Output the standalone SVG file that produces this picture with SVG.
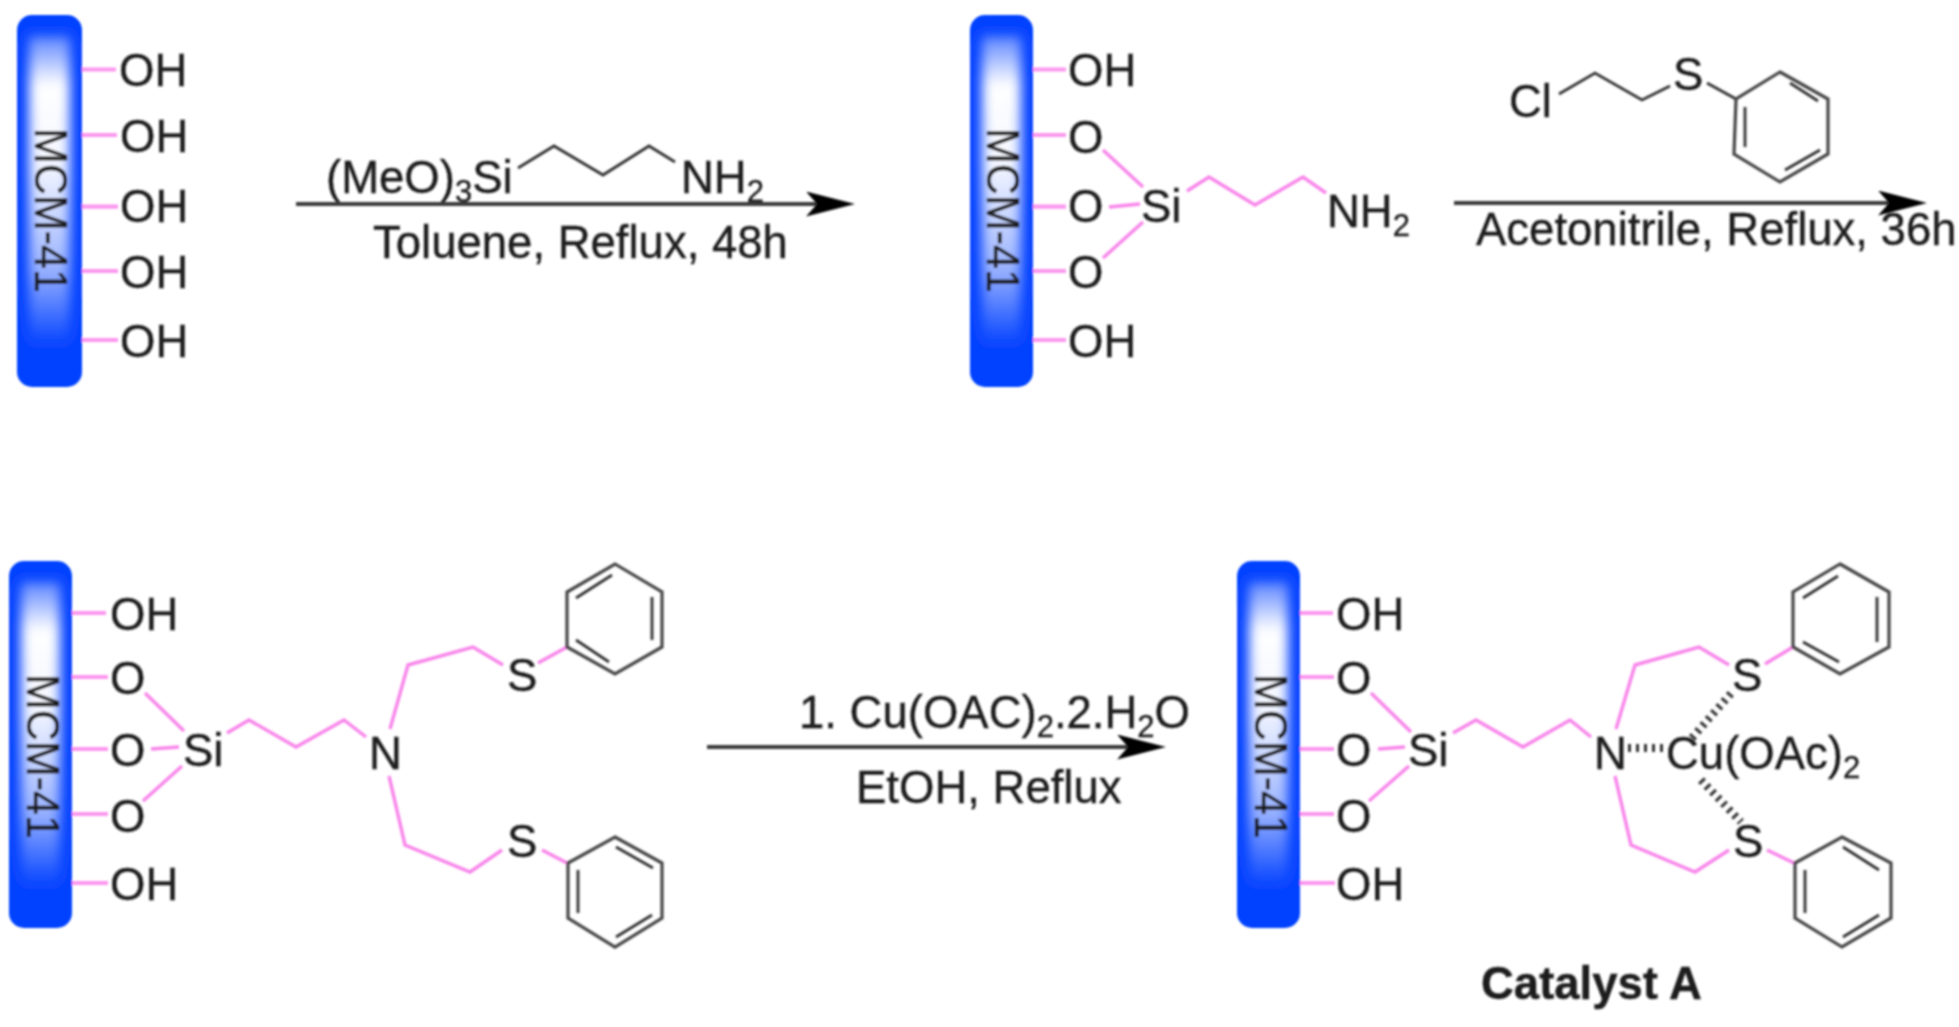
<svg xmlns="http://www.w3.org/2000/svg" width="1959" height="1027" viewBox="0 0 1959 1027">
<style>
text{font-family:"Liberation Sans",Arial,sans-serif;font-size:45.5px;fill:#1a1a1a;stroke:#1a1a1a;stroke-width:.35}
.sub{font-size:31px}
.b{font-weight:bold}
.bond{fill:none;stroke:#f884ea;stroke-width:3.4;stroke-linejoin:miter}
.stub{fill:none;stroke:#fb96ef;stroke-width:4.2}
.ring{fill:none;stroke:#444;stroke-width:3.2;stroke-linejoin:miter}
.dk{fill:none;stroke:#333;stroke-width:2.8}
.hash{fill:none;stroke:#333;stroke-width:8;stroke-dasharray:3 5}
.arrow{fill:none;stroke:#3a3a3a;stroke-width:3.8;marker-end:url(#head)}
.barbase{fill:#0442ff}
.barglow{fill:url(#glow);filter:url(#soft)}
</style>
<defs>
<linearGradient id="glow" x1="0" y1="0" x2="0" y2="1">
<stop offset="0" stop-color="#fff" stop-opacity=".35"/>
<stop offset=".16" stop-color="#fff"/>
<stop offset=".42" stop-color="#fff" stop-opacity=".95"/>
<stop offset=".75" stop-color="#fff" stop-opacity=".6"/>
<stop offset="1" stop-color="#fff" stop-opacity="0"/>
</linearGradient>
<filter id="soft" x="-50%" y="-10%" width="200%" height="120%"><feGaussianBlur stdDeviation="6"/></filter>
<filter id="blur" filterUnits="userSpaceOnUse" x="0" y="0" width="1959" height="1027"><feGaussianBlur stdDeviation="0.8"/></filter>
<marker id="head" markerUnits="userSpaceOnUse" markerWidth="49" markerHeight="25" viewBox="0 0 49 25" refX="11" refY="12.5" orient="auto"><path d="M0 0L49 12.5L0 25L11 12.5Z" fill="#000"/></marker>
</defs>
<rect width="1959" height="1027" fill="#fff"/>
<g filter="url(#blur)">

<g id="mcm-hydroxyl">
<rect class="barbase" x="17" y="15" width="65" height="372" rx="15"/>
<rect class="barglow" x="29" y="36" width="41" height="310"/>
<text transform="translate(35 128) rotate(90)" textLength="165" lengthAdjust="spacingAndGlyphs">MCM-41</text>
<path class="stub" d="M82 69.5H116M82 135H117M82 206.7H118M82 271H118M82 340H118"/>
<text x="119" y="86">OH</text>
<text x="120" y="152">OH</text>
<text x="120" y="222">OH</text>
<text x="120" y="288">OH</text>
<text x="120" y="357">OH</text>
</g>

<g id="reagent-silane">
<text x="326" y="193">(MeO)<tspan class="sub" dy="9">3</tspan><tspan dy="-9">Si</tspan></text>
<path class="dk" d="M518 168L554 146L603 175L649 146L675 162"/>
<text x="681" y="193">NH<tspan class="sub" dy="9">2</tspan></text>
</g>
<g id="condition-1"><text x="373" y="258">Toluene, Reflux, 48h</text></g>

<g id="mcm-amine">
<rect class="barbase" x="970" y="15" width="63" height="372" rx="15"/>
<rect class="barglow" x="982" y="36" width="39" height="310"/>
<text transform="translate(987 128) rotate(90)" textLength="165" lengthAdjust="spacingAndGlyphs">MCM-41</text>
<path class="stub" d="M1033 69.5H1066M1033 135H1066M1033 206.7H1066M1033 271H1066M1033 340H1066"/>
<text x="1068" y="86">OH</text>
<text x="1068" y="153">O</text>
<text x="1068" y="222">O</text>
<text x="1068" y="288">O</text>
<text x="1068" y="357">OH</text>
<path class="bond" d="M1103 150L1143 187M1109 207L1140 204M1143 222L1103 258M1187 191L1209 177L1255 205L1303 177L1326 193"/>
<text x="1141" y="222">Si</text>
<text x="1327" y="227">NH<tspan class="sub" dy="9">2</tspan></text>
</g>

<g id="reagent-thioether">
<text x="1509" y="117">Cl</text>
<path class="dk" d="M1559 94L1595 73L1642 100L1670 86"/>
<text x="1673" y="90">S</text>
<path class="dk" d="M1707 83L1736 99"/>
<polygon class="ring" points="1780,72 1828,99 1828,154 1780,182 1734,154 1736,99"/>
<path class="dk" d="M1790 83L1818 101M1745 107V147M1785 170L1820 150"/>
</g>
<g id="condition-2"><text x="1476" y="245">Acetonitrile, Reflux, 36h</text></g>

<g id="mcm-thioether">
<rect class="barbase" x="9" y="561" width="63" height="367" rx="15"/>
<rect class="barglow" x="21" y="582" width="39" height="305"/>
<text transform="translate(27 674) rotate(90)" textLength="165" lengthAdjust="spacingAndGlyphs">MCM-41</text>
<path class="stub" d="M72 613H106M72 677H108M72 749H108M72 814H108M72 883H108"/>
<text x="110" y="630">OH</text>
<text x="110" y="694">O</text>
<text x="110" y="766">O</text>
<text x="110" y="832">O</text>
<text x="110" y="900">OH</text>
<path class="bond" d="M145 693L184 731M151 749L179 747M182 766L143 801M227 733L249 720L296 747L344 720L366 737"/>
<text x="183" y="766">Si</text>
<text x="369" y="769">N</text>
<path class="bond" d="M390 729L408 665L473 647L503 665M538 663L567 647M389 776L405 845L470 872L502 850M542 850L567 863"/>
<text x="507" y="691">S</text>
<text x="507" y="857">S</text>
<polygon class="ring" points="615,564 662,592 662,647 615,674 567,647 567,592"/>
<path class="dk" d="M576 598L612 575M652 597V640M576 640L609 662"/>
<polygon class="ring" points="615,837 662,863 662,918 615,947 568,918 568,863"/>
<path class="dk" d="M616 847L653 868M578 870V913M616 937L652 915"/>
</g>

<g id="condition-3">
<text x="799" y="728">1. Cu(OAC)<tspan class="sub" dy="9">2</tspan><tspan dy="-9">.2.H</tspan><tspan class="sub" dy="9">2</tspan><tspan dy="-9">O</tspan></text>
<text x="856" y="803">EtOH, Reflux</text>
</g>

<g id="catalyst-a">
<rect class="barbase" x="1237" y="561" width="63" height="367" rx="15"/>
<rect class="barglow" x="1249" y="582" width="39" height="305"/>
<text transform="translate(1255 674) rotate(90)" textLength="165" lengthAdjust="spacingAndGlyphs">MCM-41</text>
<path class="stub" d="M1300 613H1333M1300 677H1334M1300 749H1334M1300 814H1334M1300 883H1335"/>
<text x="1336" y="630">OH</text>
<text x="1336" y="694">O</text>
<text x="1336" y="766">O</text>
<text x="1336" y="832">O</text>
<text x="1336" y="900">OH</text>
<path class="bond" d="M1371 693L1411 732M1378 749L1405 747M1409 766L1369 801M1453 733L1476 720L1523 747L1570 720L1591 737"/>
<text x="1408" y="766">Si</text>
<text x="1594" y="769">N</text>
<path class="bond" d="M1616 729L1635 665L1699 647L1729 665M1765 664L1793 647M1615 776L1631 845L1695 872L1729 850M1767 850L1794 863"/>
<text x="1732" y="691">S</text>
<text x="1733" y="857">S</text>
<path class="hash" d="M1628 748H1663M1692 738L1734 690M1701 780L1741 822"/>
<text x="1666" y="769">Cu(OAc)<tspan class="sub" dy="9">2</tspan></text>
<polygon class="ring" points="1840,564 1889,592 1889,647 1840,674 1793,647 1793,592"/>
<path class="dk" d="M1803 598L1838 576M1877 597V642M1803 642L1839 662"/>
<polygon class="ring" points="1842,837 1891,863 1891,918 1842,947 1795,918 1795,863"/>
<path class="dk" d="M1843 847L1879 870M1805 870V913M1843 937L1879 915"/>
<text class="b" x="1481" y="999">Catalyst A</text>
</g>

<g id="connectors">
<path class="arrow" d="M296 204H817"/>
<path class="arrow" d="M1454 203H1889"/>
<path class="arrow" d="M707 747H1128"/>
</g>
</g>
</svg>
